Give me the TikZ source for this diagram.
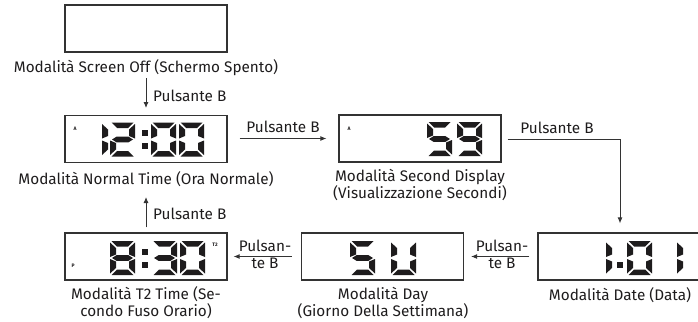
\documentclass[tikz,border=0pt]{standalone}
\usepackage{fontspec}
\setmainfont{Fira Sans}
\usetikzlibrary{arrows.meta}
\definecolor{ink}{HTML}{1E1C1D}
\definecolor{edge}{HTML}{333333}
% seven-segment pieces, local cell 25 x 34 (y down)
\newcommand{\lcdsega}{\fill[ink] (1.5,0) -- (23.5,0) -- (18,5.5) -- (7,5.5) -- cycle;}
\newcommand{\lcdsegb}{\fill[ink] (25,1.5) -- (25,16) -- (19,13.5) -- (19,7) -- cycle;}
\newcommand{\lcdsegc}{\fill[ink] (25,18) -- (25,32.5) -- (19,27) -- (19,20.5) -- cycle;}
\newcommand{\lcdsegd}{\fill[ink] (1.5,34) -- (23.5,34) -- (18,28.5) -- (7,28.5) -- cycle;}
\newcommand{\lcdsege}{\fill[ink] (0,18) -- (0,32.5) -- (6,27) -- (6,20.5) -- cycle;}
\newcommand{\lcdsegf}{\fill[ink] (0,1.5) -- (0,16) -- (6,13.5) -- (6,7) -- cycle;}
\newcommand{\lcdsegg}{\fill[ink] (2,17) -- (6.5,14.2) -- (18.5,14.2) -- (23,17) -- (18.5,19.8) -- (6.5,19.8) -- cycle;}
\newcommand{\lcddigit}[3]{\begin{scope}[shift={(#1,#2)}]\foreach \s in {#3}{\csname lcdseg\s\endcsname}\end{scope}}
\newcommand{\lcdcolon}[2]{\fill[ink] (#1,#2+7.5) rectangle (#1+5.5,#2+13.5); \fill[ink] (#1,#2+20.5) rectangle (#1+5.5,#2+26.5);}
\tikzset{
  lcdbox/.style={draw=edge, line width=1.2pt, minimum width=162pt, minimum height=47pt, inner sep=0pt},
  lbl/.style={font=\fontsize{15.3}{17}\selectfont, text=ink, inner sep=0pt, align=center},
  tiny/.style={font=\fontsize{5}{6}\selectfont\bfseries, text=ink, inner sep=0pt},
  arr/.style={draw=edge, line width=0.9pt, -{Latex[length=6pt,width=5pt]}},
}
\begin{document}
\begin{tikzpicture}[x=1pt,y=-1pt]
\useasboundingbox (0,0) rectangle (698,321);
% boxes
\node[lcdbox] (off) at (146,28.5) {};
\node[lcdbox] (normal) at (146,139) {};
\node[lcdbox] (second) at (420,138.5) {};
\node[lcdbox] (date) at (619,256.5) {};
\node[lcdbox] (day) at (382.5,256.5) {};
\node[lcdbox] (ttwo) at (146,256.5) {};
% labels
\node[lbl, anchor=base] (offl) at (146,73) {Modalità Screen Off (Schermo Spento)};
\node[lbl, anchor=base] (normall) at (146,184) {Modalità Normal Time (Ora Normale)};
\node[lbl, anchor=base] (secondl) at (420,198) {Modalità Second Display\\(Visualizzazione Secondi)};
\node[lbl, anchor=base] (datel) at (620,300) {Modalità Date (Data)};
\node[lbl, anchor=base] (dayl) at (383,316) {Modalità Day\\(Giorno Della Settimana)};
\node[lbl, anchor=base] (ttwol) at (146,316) {Modalità T2 Time (Se-\\condo Fuso Orario)};
% small indicators
\node[tiny] (ia) at (75,129) {A};
\node[tiny] (ib) at (349,129) {A};
\node[tiny] (it) at (215,245) {T2};
\node[tiny] (ip) at (73,266) {P};
% digits: 12:00
\lcddigit{102}{122.5}{e,f}
\lcddigit{110}{122.5}{a,b,g,e,d}
\lcdcolon{142}{122.5}
\lcddigit{151}{122.5}{a,b,c,d,e,f}
\lcddigit{179}{122.5}{a,b,c,d,e,f}
% 59
\lcddigit{427}{122}{a,f,g,c,d}
\lcddigit{457}{122}{a,b,c,d,f,g}
% 1.01
\lcddigit{606}{241}{e,f}
\fill[ink] (617,262) rectangle (622.5,268);
\lcddigit{627}{241}{a,b,c,d,e,f}
\lcddigit{677}{241}{e,f}
% SU
\lcddigit{350}{241}{a,f,g,c,d}
\lcddigit{391}{241}{b,c,d,e,f}
% 8:30
\lcddigit{110}{241}{a,b,c,d,e,f,g}
\lcdcolon{142}{241}
\lcddigit{152}{241}{a,b,g,c,d}
\lcddigit{180}{241}{a,b,c,d,e,f}
% connector labels
\node[lbl, anchor=base west] (p1) at (153,101) {Pulsante B};
\node[lbl, anchor=base] (p2) at (283,132) {Pulsante B};
\node[lbl, anchor=base] (p3) at (557,133) {Pulsante B};
\node[lbl, anchor=base] (p4) at (502,268) {Pulsan-\\te B};
\node[lbl, anchor=base] (p5) at (265,268) {Pulsan-\\te B};
\node[lbl, anchor=base west] (p6) at (153,219) {Pulsante B};
% connectors
\draw[arr] (offl.south |- 0,78) -- (146,108);
\draw[arr, shorten <=12pt, shorten >=12pt] (normal.east |- 0,138.5) -- (second.west |- 0,138.5);
\draw[arr, shorten <=6pt, shorten >=9pt] (second.east |- 0,139) -| (date.north -| 620,0);
\draw[arr, shorten <=8pt, shorten >=7pt] (date.west) -- (day.east);
\draw[arr, shorten <=9pt, shorten >=6pt] (day.west) -- (ttwo.east);
\draw[arr, shorten <=5pt] (ttwo.north) -- (146,197);
\end{tikzpicture}
\end{document}
